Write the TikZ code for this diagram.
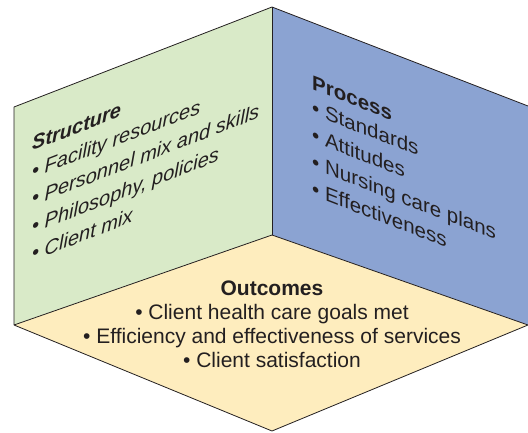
\documentclass[tikz,border=0pt]{standalone}
\usepackage{fontspec}
\setmainfont{Liberation Sans}
\usepackage{xcolor}
\definecolor{facegreen}{HTML}{D9EAC8}
\definecolor{faceblue}{HTML}{8BA3D2}
\definecolor{faceyellow}{HTML}{FEEDBE}
\definecolor{inkgray}{HTML}{231F20}
\newcommand{\itm}{\textbullet\ }
\begin{document}
\begin{tikzpicture}[x=1pt,y=-1pt]
\tikzstyle{edge}=[draw=inkgray,line width=0.8pt,line join=round]
\tikzstyle{facetext}=[inner sep=0pt,align=left,anchor=base west,text=inkgray,
  font=\fontsize{20.5}{27}\selectfont]
\useasboundingbox (0,0) rectangle (528,433);
\coordinate (t) at (272,7);
\coordinate (lt) at (14,107);
\coordinate (lb) at (14,325);
\coordinate (c) at (272,235);
\coordinate (rt) at (528,106);
\coordinate (rb) at (528,325);
\coordinate (b) at (272,431);
\fill[facegreen] (t) -- (lt) -- (lb) -- (c) -- cycle;
\fill[faceblue] (t) -- (c) -- (rb) -- (rt) -- cycle;
\fill[faceyellow] (c) -- (lb) -- (b) -- (rb) -- cycle;
\draw[edge] (rt) -- (t) -- (lt) -- (lb) -- (b) -- (rb) -- (c) -- (lb);
\draw[edge] (t) -- (c);
% base anchors sit on the last line
\coordinate (sL) at (32,261);
\coordinate (sR) at (312,195.5);
\coordinate (sB) at (272,367);
\node[facetext,cm={1,0.3876,0,1,(0,0)},font=\fontsize{20}{27.5}\selectfont\itshape] (s) at (sL)
  {\textbf{Structure}\\ \itm Facility resources\\ \itm Personnel mix and skills\\
   \itm Philosophy, policies\\ \itm Client mix};
\node[facetext,cm={1,-0.387,0,1,(0,0)}] (p) at (sR)
  {\textbf{Process}\\[-2pt] \itm Standards\\ \itm Attitudes\\ \itm Nursing care plans\\
   \itm Effectiveness};
\node[facetext,align=center,anchor=base,font=\fontsize{21}{24}\selectfont] (o) at (sB)
  {\textbf{Outcomes}\\ \itm Client health care goals met\\
   \itm Efficiency and effectiveness of services\\ \itm Client satisfaction};
\end{tikzpicture}
\end{document}
